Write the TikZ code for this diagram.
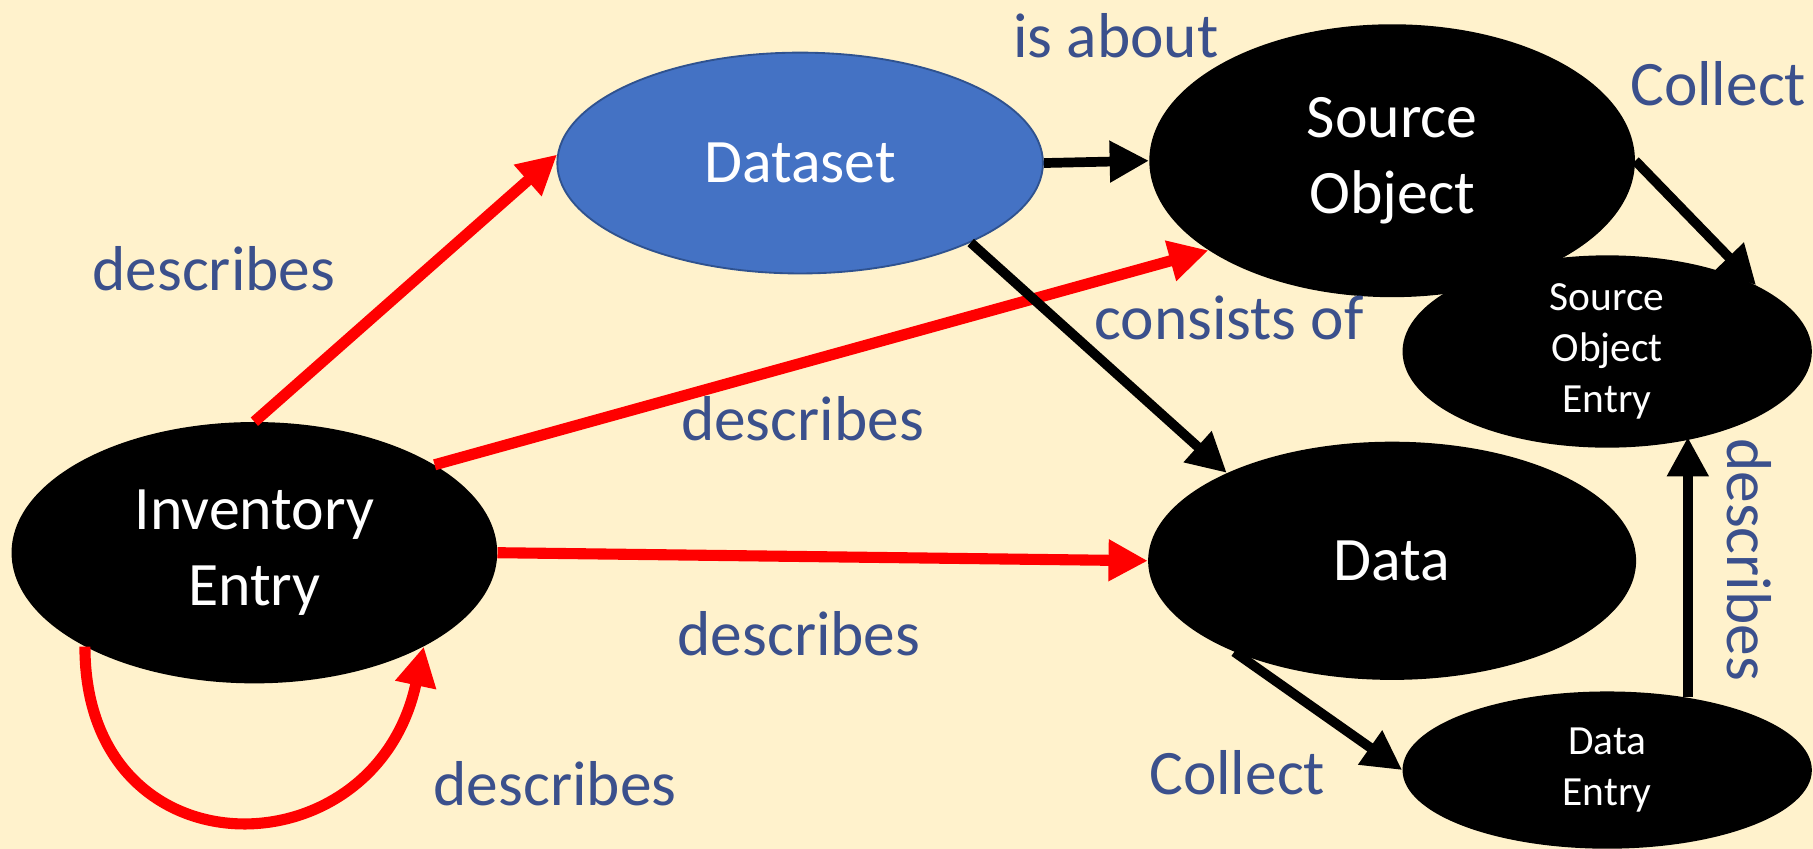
\documentclass[tikz,border=0pt]{standalone}
\usepackage{fontspec}
\setmainfont{Carlito}
\usetikzlibrary{shapes.geometric,arrows.meta,calc}
\definecolor{bg}{RGB}{255,242,204}
\definecolor{dsblue}{RGB}{68,114,196}
\definecolor{dsedge}{RGB}{47,82,143}
\definecolor{lbl}{RGB}{59,80,140}
\definecolor{redline}{RGB}{255,0,0}
\tikzset{
  bigell/.style={ellipse, fill=black, text=white, inner sep=0pt, font=\fontsize{38}{47}\selectfont, align=center},
  smallell/.style={ellipse, fill=black, text=white, inner sep=0pt, font=\fontsize{25.5}{31.5}\selectfont, align=center},
  lab/.style={text=lbl, font=\fontsize{39}{47}\selectfont, inner sep=0pt},
  redarr/.style={draw=redline, line width=2.4mm, -{Triangle[length=8.5mm,width=8.5mm]}},
  blkarr/.style={draw=black, line width=2.1mm, -{Triangle[length=8.5mm,width=8.5mm]}}
}
\begin{document}
\begin{tikzpicture}[x=0.25mm,y=-0.25mm]
\fill[bg] (0,0) rectangle (1568,734);
\useasboundingbox (0,0) rectangle (1568,734);
% nodes
\node[ellipse, fill=dsblue, draw=dsedge, line width=0.4mm, text=white, inner sep=0pt,
      minimum width=105mm, minimum height=47.75mm, font=\fontsize{38}{47}\selectfont] (ds) at (692,141) {Dataset};
\node[bigell, minimum width=105mm, minimum height=59mm] (so) at (1204,139) {Source\\Object};
\node[bigell, minimum width=105.5mm, minimum height=51.5mm] (data) at (1204,485) {Data};
\node[bigell, minimum width=105mm, minimum height=56.5mm] (inv) at (220,478) {Inventory\\Entry};
\node[smallell, minimum width=88.5mm, minimum height=33.5mm] (soe) at (1390,304) {Source\\Object\\Entry};
\node[smallell, minimum width=88.5mm, minimum height=34mm] (de) at (1390,666) {Data\\Entry};
% red connectors
\draw[redarr] (inv.north) -- (ds.178);
\draw[redarr] (inv.26.6) -- (so.206);
\draw[redarr] (inv.east) -- (data.west);
\draw[redarr] (inv.209) .. controls +(0,200) and +(-42,198) .. (inv.331);
% black connectors
\draw[blkarr] (ds.east) -- (so.west);
\draw[blkarr] (ds.335) -- (data.152);
\draw[blkarr] (so.east) -- (soe.24);
\draw[blkarr] (data.210) -- (de.west);
\draw[blkarr] (de.42) -- (de.42 |- soe.318);
% labels
\node[lab] (l1) at (185,232) {describes};
\node[lab] (l2) at (965,31) {is about};
\node[lab] (l3) at (1486,72) {Collect};
\node[lab] (l4) at (1063,275) {consists of};
\node[lab] (l5) at (694,362) {describes};
\node[lab] (l6) at (691,548) {describes};
\node[lab] (l7) at (480,678) {describes};
\node[lab] (l8) at (1070,668) {Collect};
\node[lab, rotate=-90] (l9) at (1513,484) {describes};
\end{tikzpicture}
\end{document}
